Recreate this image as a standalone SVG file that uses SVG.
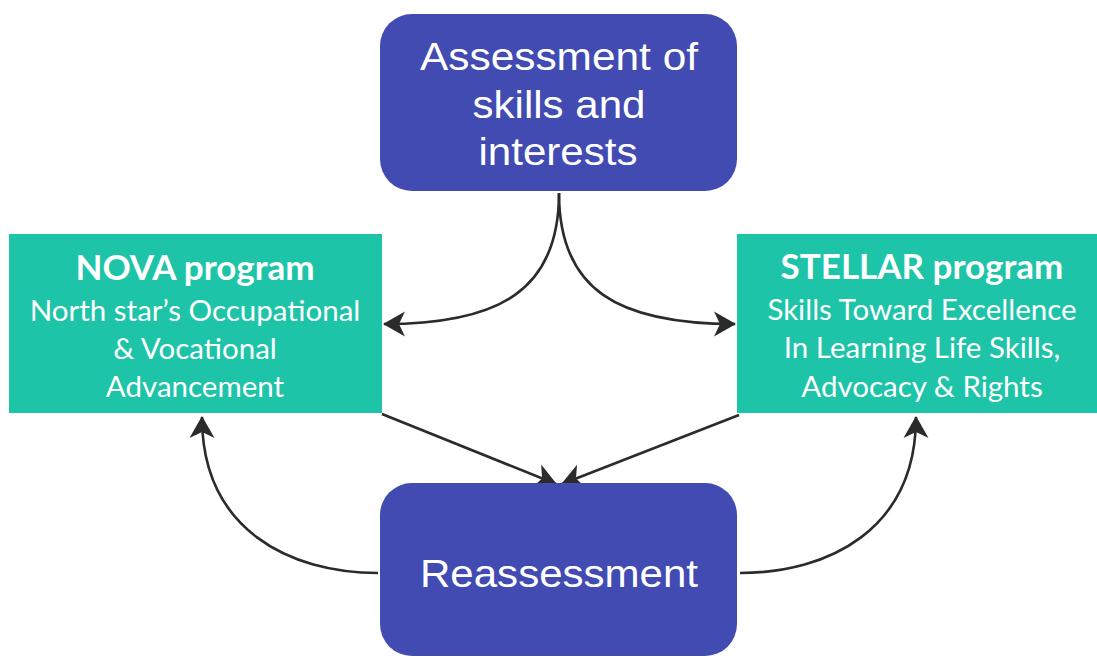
<svg xmlns="http://www.w3.org/2000/svg" width="1097" height="658" viewBox="0 0 1097 658">
  <defs>
    <style>
      .blue { fill: #414BB2; }
      .green { fill: #1DC4A7; }
      .arial { font-family: "Liberation Sans", Arial, sans-serif; fill: #ffffff; text-anchor: middle; }
      .cal { font-family: Lato, "Open Sans", sans-serif; fill: #ffffff; text-anchor: middle; }
      .title { font-weight: bold; font-size: 35px; }
      .body { font-size: 29.5px; }
      .edge { fill: none; stroke: #2b2b2b; stroke-width: 2.6; marker-end: url(#arrow); }
    </style>
    <marker id="arrow" viewBox="-23 -14 25 28" refX="0" refY="0" markerWidth="25" markerHeight="28" markerUnits="userSpaceOnUse" orient="auto">
      <path d="M1,0 L-21,-12.5 L-15,0 L-21,12.5 Z" fill="#2b2b2b"/>
    </marker>
  </defs>

  <rect width="1097" height="658" fill="#ffffff"/>

  <g id="connectors">
    <path class="edge" d="M559,193 C559,290 500,324 384,324"/>
    <path class="edge" d="M559,193 C559,290 618,324 735,324"/>
    <path class="edge" d="M382,414 L556,484"/>
    <path class="edge" d="M739,415 L562,484"/>
    <path class="edge" d="M378,573 C290,573 202,530 202,417"/>
    <path class="edge" d="M740,573 C828,573 916,530 916,417"/>
  </g>

  <g id="assessment">
    <rect class="blue" x="380" y="14" width="357" height="177" rx="32"/>
    <text class="arial" font-size="38" x="559" y="70" textLength="278" lengthAdjust="spacingAndGlyphs">Assessment of</text>
    <text class="arial" font-size="38" x="559" y="118" textLength="173" lengthAdjust="spacingAndGlyphs">skills and</text>
    <text class="arial" font-size="38" x="558" y="165" textLength="159" lengthAdjust="spacingAndGlyphs">interests</text>
  </g>

  <g id="nova">
    <rect class="green" x="9" y="234" width="373" height="179"/>
    <text class="cal title" x="195" y="280">NOVA program</text>
    <text class="cal body" x="195" y="321">North star’s Occupational</text>
    <text class="cal body" x="195" y="359">&amp; Vocational</text>
    <text class="cal body" x="195" y="397">Advancement</text>
  </g>

  <g id="stellar">
    <rect class="green" x="737" y="234" width="360" height="179"/>
    <text class="cal title" x="922" y="279">STELLAR program</text>
    <text class="cal body" x="922" y="320">Skills Toward Excellence</text>
    <text class="cal body" x="922" y="358">In Learning Life Skills,</text>
    <text class="cal body" x="922" y="397">Advocacy &amp; Rights</text>
  </g>

  <g id="reassessment">
    <rect class="blue" x="380" y="483" width="357" height="173" rx="32"/>
    <text class="arial" font-size="39" x="559" y="587" textLength="278" lengthAdjust="spacingAndGlyphs">Reassessment</text>
  </g>
</svg>
